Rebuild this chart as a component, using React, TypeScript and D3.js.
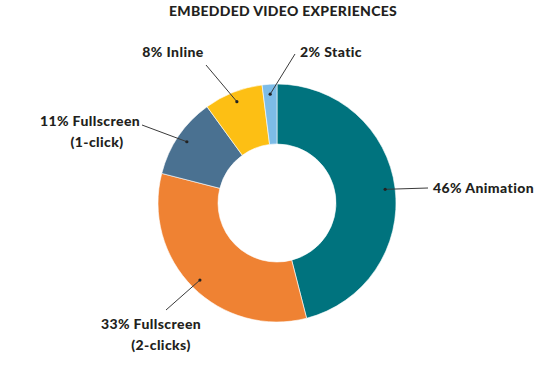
import React, { useRef, useEffect } from "react";
import * as d3 from "d3";

const title = "EMBEDDED VIDEO EXPERIENCES";
const categories = ["Animation", "Fullscreen (2-clicks)", "Fullscreen (1-click)", "Inline", "Static"];
const shares = [46, 33, 11, 8, 2];
const labelLines = [
  ["46% Animation"],
  ["33% Fullscreen", "(2-clicks)"],
  ["11% Fullscreen", "(1-click)"],
  ["8% Inline"],
  ["2% Static"],
];
const colors = ["#00737e", "#ef8233", "#4a7191", "#fdbf14", "#7dbce7"];

// where each leader line ends and where its text sits (relative to chart centre)
const labelLayout = [
  { lineEnd: [151, -15], text: [156, -10], anchor: "start", dx: [0] },
  { lineEnd: [-111, 107], text: [-126, 126], anchor: "middle", dx: [0, 10] },
  { lineEnd: [-135, -78], text: [-187, -77], anchor: "middle", dx: [0, 7] },
  { lineEnd: [-71, -138], text: [-104, -146], anchor: "middle", dx: [0] },
  { lineEnd: [18, -149], text: [54, -146], anchor: "middle", dx: [0] },
];

const App: React.FC = () => {
  const svgRef = useRef<SVGSVGElement | null>(null);

  useEffect(() => {
    const width = 550;
    const height = 366;
    const cx = 277;
    const cy = 203;
    const outerR = 119;
    const innerR = 59;

    const svg = d3.select(svgRef.current);
    svg.selectAll("*").remove();
    svg.attr("width", width).attr("height", height);

    const font = "Lato, 'Open Sans', sans-serif";

    svg
      .append("text")
      .attr("x", 283)
      .attr("y", 16)
      .attr("text-anchor", "middle")
      .style("font-family", font)
      .style("font-weight", "900")
      .style("font-size", "14px")
      .style("letter-spacing", "0.3px")
      .attr("fill", "#231f20")
      .text(title);

    const data = categories.map((c, i) => ({ category: c, value: shares[i], i }));

    const pie = d3
      .pie<{ category: string; value: number; i: number }>()
      .value((d) => d.value)
      .sort(null);

    const arc = d3
      .arc<d3.PieArcDatum<{ category: string; value: number; i: number }>>()
      .innerRadius(innerR)
      .outerRadius(outerR);

    const dotArc = d3
      .arc<d3.PieArcDatum<{ category: string; value: number; i: number }>>()
      .innerRadius(109)
      .outerRadius(109);

    const g = svg.append("g").attr("transform", `translate(${cx},${cy})`);
    const arcs = pie(data);

    g.selectAll("path.slice")
      .data(arcs)
      .join("path")
      .attr("class", "slice")
      .attr("d", arc)
      .attr("fill", (d) => colors[d.data.i])
      .attr("stroke", "#fff")
      .attr("stroke-width", 0.6);

    arcs.forEach((a) => {
      const [dx, dy] = dotArc.centroid(a);
      const lay = labelLayout[a.data.i];
      g.append("line")
        .attr("x1", dx)
        .attr("y1", dy)
        .attr("x2", lay.lineEnd[0])
        .attr("y2", lay.lineEnd[1])
        .attr("stroke", "#3a3a3a")
        .attr("stroke-width", 1);
      g.append("circle").attr("cx", dx).attr("cy", dy).attr("r", 1.6).attr("fill", "#222");

      const t = g
        .append("text")
        .attr("text-anchor", lay.anchor)
        .style("font-family", font)
        .style("font-weight", "900")
        .style("font-size", "14px")
        .style("letter-spacing", "0.4px")
        .attr("fill", "#231f20");
      labelLines[a.data.i].forEach((line, k) => {
        t.append("tspan")
          .attr("x", lay.text[0] + (lay.dx[k] ?? 0))
          .attr("y", lay.text[1] + k * 21)
          .text(line);
      });
    });
  }, []);

  return (
    <div style={{ position: "absolute", left: 0, top: 0, background: "#fff" }}>
      <svg ref={svgRef} style={{ display: "block" }} />
    </div>
  );
};

export default App;
